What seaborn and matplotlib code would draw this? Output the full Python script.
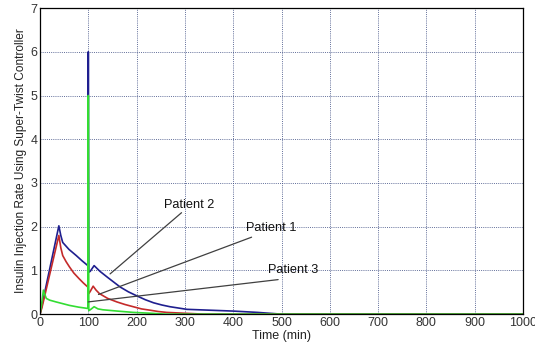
import matplotlib
matplotlib.use('Agg')
import matplotlib.pyplot as plt
import numpy as np
import pandas as pd
import seaborn as sns

# Values (time in min, insulin rate)
p1_time = [0, 4, 39, 43, 47, 54, 61, 70, 81, 90, 99, 101, 104, 110, 116, 123, 140, 159, 176, 193, 210, 228, 245, 262, 300, 340, 1000]
p1_rate = [0, 0.15, 1.8, 1.52, 1.34, 1.2, 1.08, 0.94, 0.81, 0.71, 0.62, 0.47, 0.52, 0.64, 0.55, 0.47, 0.36, 0.28, 0.22, 0.17, 0.12, 0.09, 0.06, 0.04, 0.02, 0.0, 0.0]

p2_time = [0, 4, 39, 43, 47, 60, 75, 87, 99, 100, 101, 104, 112, 124, 140, 166, 183, 200, 218, 235, 252, 269, 304, 352, 400, 450, 500, 1000]
p2_rate = [0, 0.2, 2.02, 1.8, 1.64, 1.48, 1.34, 1.22, 1.11, 6.0, 0.96, 0.98, 1.11, 0.98, 0.84, 0.62, 0.51, 0.42, 0.33, 0.26, 0.21, 0.17, 0.11, 0.09, 0.07, 0.04, 0.0, 0.0]

p3_time = [0, 3, 7, 10, 13, 20, 33, 47, 61, 80, 99, 100, 101, 104, 112, 120, 130, 160, 193, 230, 260, 1000]
p3_rate = [0, 0.2, 0.55, 0.45, 0.36, 0.32, 0.28, 0.24, 0.2, 0.16, 0.13, 5.0, 0.08, 0.1, 0.17, 0.12, 0.1, 0.07, 0.04, 0.02, 0.0, 0.0]

patients = ['Patient 2', 'Patient 1', 'Patient 3']
colours = {'Patient 2': '#1f1f8f', 'Patient 1': '#c42a2a', 'Patient 3': '#33dd33'}

# label text position and line end (data coords)
label_xy = {'Patient 2': (308, 2.5), 'Patient 1': (478, 1.96), 'Patient 3': (524, 1.02)}
line_start = {'Patient 2': (293, 2.32), 'Patient 1': (438, 1.76), 'Patient 3': (493, 0.79)}
line_end = {'Patient 2': (145, 0.92), 'Patient 1': (121, 0.45), 'Patient 3': (100, 0.28)}

df = pd.concat([
    pd.DataFrame({'time': p2_time, 'rate': p2_rate, 'patient': 'Patient 2'}),
    pd.DataFrame({'time': p1_time, 'rate': p1_rate, 'patient': 'Patient 1'}),
    pd.DataFrame({'time': p3_time, 'rate': p3_rate, 'patient': 'Patient 3'}),
], ignore_index=True)

sns.set_style('white')
plt.rcParams['font.family'] = ['Liberation Sans', 'DejaVu Sans']

fig = plt.figure(figsize=(5.35, 3.51), dpi=100)
ax = fig.add_axes([0.0748, 0.105, 0.9028, 0.872])

sns.lineplot(data=df, x='time', y='rate', hue='patient', hue_order=patients,
             palette=colours, estimator=None, sort=False, linewidth=1.2,
             legend=False, ax=ax)

ax.set_xlim(0, 1000)
ax.set_ylim(0, 7)
ax.set_xticks(np.arange(0, 1001, 100))
ax.set_yticks(np.arange(0, 8, 1))
ax.grid(True, linestyle=(0, (1, 1.2)), color='#3a4a80', linewidth=0.7, alpha=0.8)
for s in ax.spines.values():
    s.set_color('black')
    s.set_linewidth(0.9)
ax.tick_params(axis='both', labelsize=9, length=3, direction='in', pad=2,
               colors='black', labelcolor='#333333')
ax.set_xlabel('Time (min)', fontsize=9, color='#222222', labelpad=1)
ax.set_ylabel('Insulin Injection Rate Using Super-Twist Controller', fontsize=8.6,
              color='#222222', labelpad=2)

for p in patients:
    ax.plot([line_start[p][0], line_end[p][0]], [line_start[p][1], line_end[p][1]],
            color='#404040', linewidth=0.9)
    ax.text(label_xy[p][0], label_xy[p][1], p, fontsize=9.2, ha='center', va='center',
            color='#111111')

fig.savefig('out.png', dpi=100)
